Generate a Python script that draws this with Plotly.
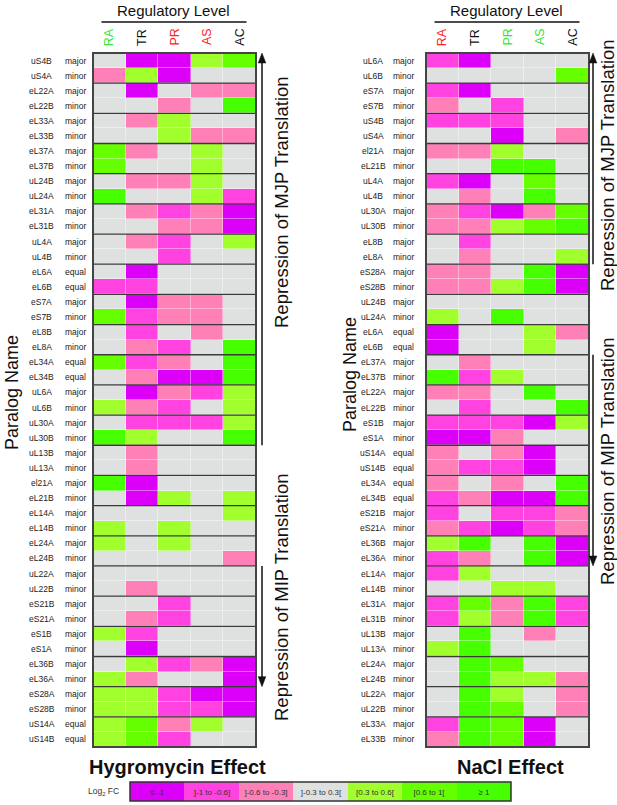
import plotly.graph_objects as go

# ---------------- data ----------------
columns = ["RA", "TR", "PR", "AS", "AC"]
hyg_col_colors = ["#33e633", "#111111", "#ff2020", "#ff2020", "#111111"]
nacl_col_colors = ["#ff2020", "#111111", "#33e633", "#33e633", "#111111"]

hyg_names = ["uS4B", "uS4A", "eL22A", "eL22B", "eL33A", "eL33B", "eL37A", "eL37B",
             "uL24B", "uL24A", "eL31A", "eL31B", "uL4A", "uL4B", "eL6A", "eL6B",
             "eS7A", "eS7B", "eL8B", "eL8A", "eL34A", "eL34B", "uL6A", "uL6B",
             "uL30A", "uL30B", "uL13B", "uL13A", "el21A", "eL21B", "eL14A", "eL14B",
             "eL24A", "eL24B", "uL22A", "uL22B", "eS21B", "eS21A", "eS1B", "eS1A",
             "eL36B", "eL36A", "eS28A", "eS28B", "uS14A", "uS14B"]
hyg_types = ["major", "minor", "major", "minor", "major", "minor", "major", "minor",
             "major", "minor", "major", "minor", "major", "minor", "equal", "equal",
             "major", "minor", "major", "minor", "equal", "equal", "major", "minor",
             "major", "minor", "major", "minor", "major", "minor", "major", "minor",
             "major", "minor", "major", "minor", "major", "minor", "major", "minor",
             "major", "minor", "major", "minor", "equal", "equal"]
# class codes: -3 (<=-1) ... 0 (]-0.3,0.3[) ... 3 (>=1)
hyg_values = [
    [0, -3, -3, 1, 2], [-1, 1, -3, 0, 0], [0, -3, 0, -1, -1], [0, 0, -1, 0, 3],
    [0, -1, 1, 0, 0], [0, 0, 1, -1, -1], [2, -1, 0, 1, 0], [2, 0, 0, 1, 0],
    [0, -1, -1, 1, 0], [3, 0, 0, 1, -2], [0, -1, -2, -1, -3], [0, 0, -1, -1, -3],
    [0, -1, -2, 0, 1], [0, 0, -2, 0, 0], [0, -3, 0, 0, 0], [-2, -2, 0, 0, 0],
    [0, -3, -1, -1, 0], [2, -2, -1, -1, 0], [0, -2, 0, -1, 0], [0, -1, -2, 0, 3],
    [2, -2, -1, 0, 3], [0, -1, -3, -3, 3], [0, -3, -1, -2, 1], [1, -1, -2, 0, 1],
    [0, -2, -2, -2, 1], [3, 1, 0, 0, 3], [0, -1, 0, 0, 0], [0, -1, 0, 0, 0],
    [3, -3, 0, 0, 0], [0, -3, 1, 0, 1], [0, 0, 0, 0, 1], [1, 0, 1, 0, 0],
    [1, 0, 1, 0, 0], [0, 0, 0, 0, -1], [0, 0, 0, 0, 0], [0, -1, 0, 0, 0],
    [0, 0, -2, 0, 0], [0, -1, -2, 0, 0], [1, -2, 0, 0, 0], [0, -3, 0, 0, 0],
    [0, 1, -2, -1, -3], [1, -1, 0, 0, -3], [1, 1, -2, -3, -3], [1, 1, -2, -2, -3],
    [1, 2, -1, 1, 0], [1, 2, -2, 0, 0],
]

nacl_names = ["uL6A", "uL6B", "eS7A", "eS7B", "uS4B", "uS4A", "el21A", "eL21B",
              "uL4A", "uL4B", "uL30A", "uL30B", "eL8B", "eL8A", "eS28A", "eS28B",
              "uL24B", "uL24A", "eL6A", "eL6B", "eL37A", "eL37B", "eL22A", "eL22B",
              "eS1B", "eS1A", "uS14A", "uS14B", "eL34A", "eL34B", "eS21B", "eS21A",
              "eL36B", "eL36A", "eL14A", "eL14B", "eL31A", "eL31B", "uL13B", "uL13A",
              "eL24A", "eL24B", "uL22A", "uL22B", "eL33A", "eL33B"]
nacl_types = ["major", "minor", "major", "minor", "major", "minor", "major", "minor",
              "major", "minor", "major", "minor", "major", "minor", "major", "minor",
              "major", "minor", "equal", "equal", "major", "minor", "major", "minor",
              "major", "minor", "equal", "equal", "equal", "equal", "major", "minor",
              "major", "minor", "major", "minor", "major", "minor", "major", "minor",
              "major", "minor", "major", "minor", "major", "minor"]
nacl_values = [
    [-2, -3, 0, 0, 0], [0, 0, 0, 0, 2], [-2, -3, 0, 0, 0], [-1, 0, -2, 0, 0],
    [-2, -2, -2, 0, 0], [0, 0, -3, 0, -1], [-1, -1, 1, 0, 0], [0, 0, 3, 3, 0],
    [-2, -3, 0, 2, 0], [0, -1, 0, 3, 0], [-1, -2, -3, -1, 2], [-1, -1, 1, 2, 3],
    [0, -2, 0, 0, 0], [0, -1, 0, 0, 1], [-1, -1, 0, 3, -3], [-1, -1, 1, 3, -3],
    [0, 0, 0, 0, 0], [1, 0, 3, 0, 0], [-3, 0, 0, 1, -1], [-3, 0, 0, 1, 0],
    [0, -1, 0, 0, 0], [3, -2, 1, 0, 0], [-1, -1, 0, 3, 0], [0, -2, 0, 0, 3],
    [-2, -2, -2, -3, 1], [-3, -3, -1, 0, 0], [-1, 0, -1, -3, 0], [-1, -2, -2, -3, 0],
    [-1, 0, -1, 0, 3], [-2, -1, -3, -3, 3], [-2, 0, -2, -2, -1], [-1, -2, -3, -2, -1],
    [1, 3, 0, 3, -3], [-2, -1, 0, 3, -3], [-2, 1, 0, 0, 0], [0, 0, 1, 1, 0],
    [-2, 2, -1, 3, -2], [-2, 1, -1, 3, -2], [0, 3, 0, -1, 0], [1, 3, 0, 0, 0],
    [0, 3, 2, 0, 0], [0, 3, 1, 1, -1], [0, 3, 1, 0, -1], [0, 3, 2, 0, -1],
    [-2, 3, 2, -3, 0], [-1, 3, 2, -3, 0],
]

legend_codes = [-3, -2, -1, 0, 1, 2, 3]
legend_labels = ["≤ -1", "]-1 to -0.6]", "]-0.6 to -0.3]", "]-0.3 to 0.3[",
                 "[0.3 to 0.6[", "[0.6 to 1[", "≥ 1"]
class_colors = ["#dd00f8", "#ff42e0", "#ff80b6", "#dfe1e1", "#a2ff2e", "#66ff00", "#46ff00"]

# hygromycin: MJP rows 0-25, MIP rows 34-41 ; NaCl: MJP rows 0-13, MIP rows 20-33
hyg_mjp = (0, 25)
hyg_mip = (34, 41)
nacl_mjp = (0, 13)
nacl_mip = (20, 33)

# ---------------- layout helpers ----------------
W, H = 617, 805
FONT = "Arial, Liberation Sans, sans-serif"


def px(x):
    return x / W


def py(y):
    return 1 - y / H


def text_ann(x, y, text, size, color="#111111", angle=0, xref="paper", yref="paper"):
    return dict(x=x, y=y, xref=xref, yref=yref, text=text, showarrow=False,
                xanchor="center", yanchor="middle", textangle=angle,
                font=dict(size=size, color=color, family=FONT))


n = len(columns)
colorscale = []
for i, c in enumerate(class_colors):
    colorscale.append([i / 7, c])
    colorscale.append([(i + 1) / 7, c])

fig = go.Figure()

panels = [
    dict(vals=hyg_values, names=hyg_names, types=hyg_types, ccol=hyg_col_colors,
         xa="x", ya="y", xl=93, xr=256, name_x=42, type_x=75, arrow_x=262, text_x=281,
         mjp=hyg_mjp, mip=hyg_mip, mjp_ty=202, mip_ty=598, par_x=12, par_y=393,
         title="Hygromycin Effect"),
    dict(vals=nacl_values, names=nacl_names, types=nacl_types, ccol=nacl_col_colors,
         xa="x2", ya="y2", xl=426, xr=589, name_x=373, type_x=403, arrow_x=593, text_x=607,
         mjp=nacl_mjp, mip=nacl_mip, mjp_ty=165, mip_ty=462, par_x=350, par_y=375,
         title="NaCl Effect"),
]

TOP, BOT = 53, 747
ROW_PX = (BOT - TOP) / len(hyg_names)
annotations = []
shapes = []

for k, p in enumerate(panels):
    nrow = len(p["names"])
    fig.add_trace(go.Heatmap(
        z=p["vals"], x=list(range(n)), y=list(range(nrow)),
        zmin=-3.5, zmax=3.5, colorscale=colorscale, showscale=False,
        xaxis=p["xa"], yaxis=p["ya"], hoverinfo="skip", xgap=0.4, ygap=0.4,
    ))
    axn = "" if k == 0 else "2"
    fig.update_layout(**{
        f"xaxis{axn}": dict(domain=[px(p["xl"]), px(p["xr"])], range=[-0.5, n - 0.5],
                            visible=False, anchor=p["ya"]),
        f"yaxis{axn}": dict(domain=[py(BOT), py(TOP)], range=[nrow - 0.5, -0.5],
                            visible=False, anchor=p["xa"]),
    })
    xd = p["xa"] + " domain"
    yd = p["ya"] + " domain"
    # pair separators
    for r in range(1, nrow // 2):
        shapes.append(dict(type="line", xref=xd, yref=p["ya"], x0=0, x1=1,
                           y0=2 * r - 0.5, y1=2 * r - 0.5,
                           line=dict(color="#3a3a3a", width=1.3)))
    # border
    shapes.append(dict(type="rect", xref=xd, yref=yd, x0=0, x1=1, y0=0, y1=1,
                       line=dict(color="#444444", width=2)))
    # row labels
    for i, (nm, tp) in enumerate(zip(p["names"], p["types"])):
        annotations.append(text_ann(px(p["name_x"]), i, nm, 8.5, "#222222", yref=p["ya"]))
        annotations.append(text_ann(px(p["type_x"]), i, tp, 8.5, "#222222", yref=p["ya"]))
    # column headers
    for j, (cname, ccol) in enumerate(zip(columns, p["ccol"])):
        annotations.append(text_ann(j, py(37), cname, 12.5, ccol, angle=-90, xref=p["xa"]))
    cx = (p["xl"] + p["xr"]) / 2
    annotations.append(text_ann(px(cx - 1.5), py(10), "Regulatory Level", 15))
    shapes.append(dict(type="line", xref="paper", yref="paper",
                       x0=px(cx - 73), x1=px(cx + 72), y0=py(22), y1=py(22),
                       line=dict(color="#111111", width=1.5)))
    # arrows (line + triangular head)
    ax = px(p["arrow_x"])
    hw = 3.8 / W          # half width of arrow head (paper)
    hh = 10 / ROW_PX      # head length in row units
    a0, a1 = p["mjp"]
    top = a0 - 0.5
    shapes.append(dict(type="line", xref="paper", yref=p["ya"], x0=ax, x1=ax,
                       y0=top + hh * 0.8, y1=a1 + 0.5, line=dict(color="#111111", width=1.5)))
    shapes.append(dict(type="path", xref="paper", yref=p["ya"],
                       path=f"M {ax - hw} {top + hh} L {ax} {top} L {ax + hw} {top + hh} Z",
                       fillcolor="#111111", line=dict(color="#111111", width=0.5)))
    b0, b1 = p["mip"]
    bot = b1 + 0.5
    shapes.append(dict(type="line", xref="paper", yref=p["ya"], x0=ax, x1=ax,
                       y0=b0 - 0.5, y1=bot - hh * 0.8, line=dict(color="#111111", width=1.5)))
    shapes.append(dict(type="path", xref="paper", yref=p["ya"],
                       path=f"M {ax - hw} {bot - hh} L {ax} {bot} L {ax + hw} {bot - hh} Z",
                       fillcolor="#111111", line=dict(color="#111111", width=0.5)))
    annotations.append(text_ann(px(p["text_x"]), py(p["mjp_ty"]),
                                "Repression of MJP Translation", 18.5, angle=-90))
    annotations.append(text_ann(px(p["text_x"]), py(p["mip_ty"]),
                                "Repression of MIP Translation", 18.5, angle=-90))
    annotations.append(text_ann(px(p["par_x"]), py(p["par_y"]), "Paralog Name", 18, angle=-90))
    annotations.append(text_ann(px(cx + 3), py(767), "<b>" + p["title"] + "</b>", 20))

# ---------------- legend bar ----------------
fig.add_trace(go.Heatmap(
    z=[legend_codes], x=list(range(len(legend_codes))), y=[0],
    text=[legend_labels], texttemplate="%{text}",
    textfont=dict(size=8, color="#333333", family=FONT),
    zmin=-3.5, zmax=3.5, colorscale=colorscale, showscale=False,
    xaxis="x3", yaxis="y3", hoverinfo="skip",
))
fig.update_layout(
    xaxis3=dict(domain=[px(130), px(511)], range=[-0.5, 6.5], visible=False, anchor="y3"),
    yaxis3=dict(domain=[py(801), py(782)], range=[-0.5, 0.5], visible=False, anchor="x3"),
)
shapes.append(dict(type="rect", xref="x3 domain", yref="y3 domain", x0=0, x1=1, y0=0, y1=1,
                   line=dict(color="#333333", width=1.5)))
annotations.append(text_ann(px(103), py(791), "Log<sub>2</sub> FC", 8.5, "#333333"))

fig.update_layout(
    width=W, height=H, margin=dict(l=0, r=0, t=0, b=0),
    paper_bgcolor="white", plot_bgcolor="white",
    annotations=annotations, shapes=shapes, showlegend=False,
)

fig.write_html("out.html", config={"displayModeBar": False},
               post_script="document.body.style.margin='0px';")
